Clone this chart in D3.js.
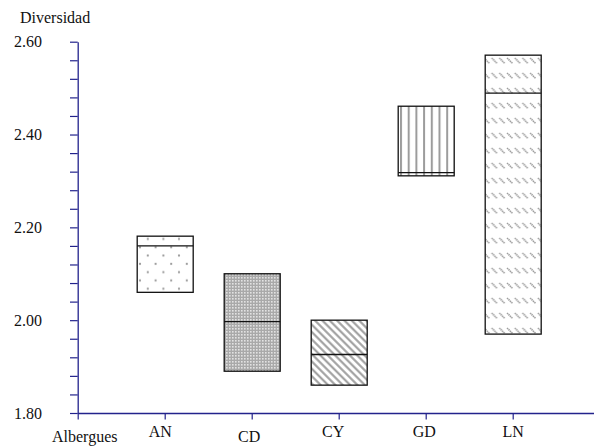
<!DOCTYPE html>
<html>
<head>
<meta charset="utf-8">
<script src="https://cdn.jsdelivr.net/npm/d3@7"></script>
<style>
  html, body { margin: 0; padding: 0; background: #fff; }
  svg { display: block; }
</style>
</head>
<body>
<svg id="chart" width="594" height="446"></svg>
<script>
// Diversity ranges per shelter: minimum, median and maximum
const categories = ["AN", "CD", "CY", "GD", "LN"];
const minValues    = [2.06, 1.89, 1.86, 2.311, 1.97];
const medianValues = [2.16, 1.997, 1.926, 2.318, 2.489];
const maxValues    = [2.181, 2.10, 2.00, 2.461, 2.571];
const yTickLabels  = ["1.80", "2.00", "2.20", "2.40", "2.60"];
const yTitle = "Diversidad";
const xTitle = "Albergues";

const FONT = "Liberation Serif";
const svg = d3.select("#chart");
const axisColor = "#23238c";

const y = d3.scaleLinear().domain([1.8, 2.6]).range([413, 41.7]);
// first slot is the axis origin, last slot is a trailing empty slot
const x = d3.scalePoint().domain(["__origin", ...categories, "__end"]).range([77.7, 599.7]);
const boxWidth = 56;

// fill patterns for each box
const defs = svg.append("defs");

const pDots = defs.append("pattern").attr("id", "pat-AN")
  .attr("patternUnits", "userSpaceOnUse").attr("width", 15.6).attr("height", 16.6)
  .attr("x", 140).attr("y", 247.3);
[[0, 0], [15.6, 0], [0, 16.6], [15.6, 16.6], [7.8, 8.3]].forEach(([cx, cy]) =>
  pDots.append("circle").attr("cx", cx).attr("cy", cy).attr("r", 1.1).attr("fill", "#9a9a9a"));

const pCheck = defs.append("pattern").attr("id", "pat-CD")
  .attr("patternUnits", "userSpaceOnUse").attr("width", 3).attr("height", 3);
pCheck.append("rect").attr("width", 3).attr("height", 3).attr("fill", "#a9a9a9");
pCheck.append("rect").attr("x", 1).attr("y", 1).attr("width", 1.6).attr("height", 1.6).attr("fill", "#e2e2e2");

const pDiag = defs.append("pattern").attr("id", "pat-CY")
  .attr("patternUnits", "userSpaceOnUse").attr("width", 5.2).attr("height", 10)
  .attr("patternTransform", "rotate(-45)");
pDiag.append("rect").attr("width", 5.2).attr("height", 10).attr("fill", "#fff");
pDiag.append("line").attr("x1", 1.3).attr("x2", 1.3).attr("y1", 0).attr("y2", 10)
  .attr("stroke", "#9a9a9a").attr("stroke-width", 2);

const pVert = defs.append("pattern").attr("id", "pat-GD")
  .attr("patternUnits", "userSpaceOnUse").attr("width", 7.7).attr("height", 10).attr("x", 400);
pVert.append("rect").attr("width", 7.7).attr("height", 10).attr("fill", "#fff");
pVert.append("line").attr("x1", 1).attr("x2", 1).attr("y1", 0).attr("y2", 10)
  .attr("stroke", "#9c9c9c").attr("stroke-width", 2);

const pDash = defs.append("pattern").attr("id", "pat-LN")
  .attr("patternUnits", "userSpaceOnUse").attr("width", 7.7).attr("height", 15)
  .attr("x", 483).attr("y", 57);
pDash.append("rect").attr("width", 7.7).attr("height", 15).attr("fill", "#fff");
pDash.append("line").attr("x1", 1).attr("y1", 1).attr("x2", 6.5).attr("y2", 6.5)
  .attr("stroke", "#9c9c9c").attr("stroke-width", 1.6).attr("stroke-dasharray", "1.4 0.6");

// boxes
const rows = categories.map((c, i) => ({ c, lo: minValues[i], med: medianValues[i], hi: maxValues[i] }));
const g = svg.append("g");
g.selectAll("rect.box").data(rows).join("rect")
  .attr("class", "box")
  .attr("x", d => x(d.c) - boxWidth / 2 + 0.5)
  .attr("y", d => y(d.hi))
  .attr("width", boxWidth)
  .attr("height", d => y(d.lo) - y(d.hi))
  .attr("fill", d => `url(#pat-${d.c})`)
  .attr("stroke", "#111").attr("stroke-width", 1.3);
g.selectAll("line.med").data(rows).join("line")
  .attr("class", "med")
  .attr("x1", d => x(d.c) - boxWidth / 2 + 0.5)
  .attr("x2", d => x(d.c) + boxWidth / 2 + 0.5)
  .attr("y1", d => y(d.med)).attr("y2", d => y(d.med))
  .attr("stroke", "#111").attr("stroke-width", 1.3);

// y axis: labelled every 0.2, minor ticks every 0.04
const yTicks = d3.range(0, 21).map(i => +(1.8 + i * 0.04).toFixed(2));
const yAxis = d3.axisLeft(y).tickValues(yTicks).tickSize(7.7).tickSizeOuter(0).tickPadding(28)
  .tickFormat(v => {
    const s = v.toFixed(2);
    return yTickLabels.includes(s) ? s : "";
  });
const gy = svg.append("g").attr("transform", `translate(${x("__origin")},0)`).call(yAxis);

// x axis
const xAxis = d3.axisBottom(x).tickSize(6.5).tickSizeOuter(0).tickPadding(6)
  .tickFormat(d => d.startsWith("__") ? "" : d);
const gx = svg.append("g").attr("transform", `translate(0,${y(1.8)})`).call(xAxis);

[gx, gy].forEach(a => {
  a.attr("font-family", FONT).attr("font-size", 16);
  a.select(".domain").attr("stroke", axisColor).attr("stroke-width", 1.3);
  a.selectAll(".tick line").attr("stroke", axisColor).attr("stroke-width", 1.2);
  a.selectAll("text").attr("fill", "#111").attr("font-family", FONT).attr("font-size", 16);
});

// small nudges of the category labels
const labelShift = { AN: [-5, 0], CD: [-3, 5], CY: [-6, 0], GD: [-2, 0], LN: [0, 0] };
gx.selectAll(".tick text").attr("transform", d => {
  const s = labelShift[d] || [0, 0];
  return `translate(${s[0]},${s[1]})`;
});

// titles
svg.append("text").attr("x", 20).attr("y", 23).text(yTitle)
  .attr("fill", "#111").attr("font-family", FONT).attr("font-size", 16);
svg.append("text").attr("x", 52).attr("y", 442).text(xTitle)
  .attr("fill", "#111").attr("font-family", FONT).attr("font-size", 16);
</script>
</body>
</html>
